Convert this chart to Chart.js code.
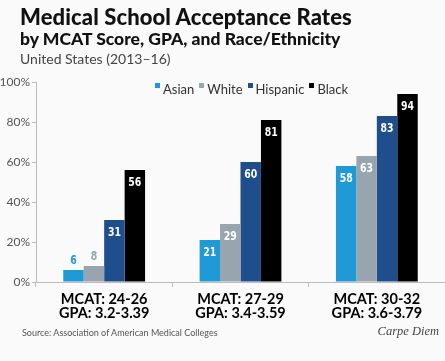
<!DOCTYPE html>
<html>
<head>
<meta charset="utf-8">
<script src="https://cdn.jsdelivr.net/npm/chart.js@4"></script>
<style>
  html, body { margin: 0; padding: 0; background: #fafafa; }
  #wrap { position: relative; width: 445px; height: 361px; overflow: hidden; font-family: Lato, 'Open Sans', sans-serif; }
  #chartCanvas { position: absolute; left: 0; top: 0; }
  .t1 { position: absolute; left: 20px; top: 3px; font-size: 22px; font-weight: 900; color: #111; letter-spacing: 0.1px; }
  .t2 { position: absolute; left: 20px; top: 28px; font-size: 17.5px; font-weight: 900; color: #111; }
  .t3 { position: absolute; left: 20px; top: 50px; font-size: 14px; color: #444; }
  #legend { position: absolute; left: 155px; top: 81px; font-size: 13px; color: #333; white-space: nowrap; }
  #legend span.sw { display: inline-block; width: 5px; height: 5px; margin-right: 3px; vertical-align: 6px; }
  #legend span.it { margin-right: 5px; }
  .src { position: absolute; left: 22px; top: 327px; font-size: 9px; color: #555; }
  .cd { position: absolute; right: 6px; top: 324px; font-family: 'Liberation Serif', serif; font-style: italic; font-size: 12.5px; color: #444; }
</style>
</head>
<body>
<div id="wrap">
  <canvas id="chartCanvas" width="445" height="361"></canvas>
  <div class="t1">Medical School Acceptance Rates</div>
  <div class="t2">by MCAT Score, GPA, and Race/Ethnicity</div>
  <div class="t3">United States (2013–16)</div>
  <div id="legend"></div>
  <div class="src">Source: Association of American Medical Colleges</div>
  <div class="cd">Carpe Diem</div>
</div>
<script>
const categories = [['MCAT: 24-26', 'GPA: 3.2-3.39'], ['MCAT: 27-29', 'GPA: 3.4-3.59'], ['MCAT: 30-32', 'GPA: 3.6-3.79']];
const seriesNames = ['Asian', 'White', 'Hispanic', 'Black'];
const asian = [6, 21, 58];
const white = [8, 29, 63];
const hispanic = [31, 60, 83];
const black = [56, 81, 94];
const colors = ['#1f9ad6', '#98a4ae', '#1f4e8c', '#000000'];
const yTicks = [0, 20, 40, 60, 80, 100];

// legend in html
const legendEl = document.getElementById('legend');
seriesNames.forEach((name, i) => {
    legendEl.innerHTML += '<span class="sw" style="background:' + colors[i] + '"></span><span class="it">' + name + '</span>';
});

// values on bars, squeezed to look condensed
const valueLabels = {
    id: 'valueLabels',
    afterDatasetsDraw(chart) {
        const ctx = chart.ctx;
        chart.data.datasets.forEach((ds, di) => {
            chart.getDatasetMeta(di).data.forEach((bar, i) => {
                const v = ds.data[i];
                const small = v < 15;
                ctx.save();
                ctx.translate(bar.x, small ? bar.y - 9 : bar.y + 13);
                ctx.scale(0.72, 1);
                ctx.font = "bold 13px 'DejaVu Sans'";
                ctx.textAlign = 'center';
                ctx.textBaseline = 'middle';
                ctx.fillStyle = small ? ds.backgroundColor : '#ffffff';
                ctx.fillText(v, 0, 0);
                ctx.restore();
            });
        });
    }
};

const ctx = document.getElementById('chartCanvas');
window.myChart = new Chart(ctx, {
    type: 'bar',
    data: {
        labels: categories,
        datasets: [asian, white, hispanic, black].map((d, i) => ({
            label: seriesNames[i],
            data: d,
            backgroundColor: colors[i],
            categoryPercentage: 0.6,
            barPercentage: 1.0
        }))
    },
    options: {
        responsive: false,
        animation: false,
        layout: { padding: { top: 82, right: 0, left: 0, bottom: 35 } },
        plugins: { legend: { display: false }, tooltip: { enabled: false } },
        scales: {
            x: {
                grid: { display: true, drawOnChartArea: false, tickLength: 5, color: '#bbbbbb' },
                border: { color: '#bbbbbb' },
                ticks: { color: '#000', font: { family: 'Lato', weight: 'bold', size: 14.5, lineHeight: 1.0 }, padding: 5, maxRotation: 0 }
            },
            y: {
                min: 0, max: 100,
                afterFit(scale) { scale.width = 36; },
                afterBuildTicks(scale) { scale.ticks = yTicks.map(v => ({ value: v })); },
                grid: { display: true, drawOnChartArea: false, tickLength: 4, color: '#bbbbbb' },
                border: { color: '#bbbbbb' },
                ticks: { color: '#555', font: { family: 'Lato', size: 12 }, padding: 2, callback: v => v + '%' }
            }
        }
    },
    plugins: [valueLabels]
});
</script>
</body>
</html>
